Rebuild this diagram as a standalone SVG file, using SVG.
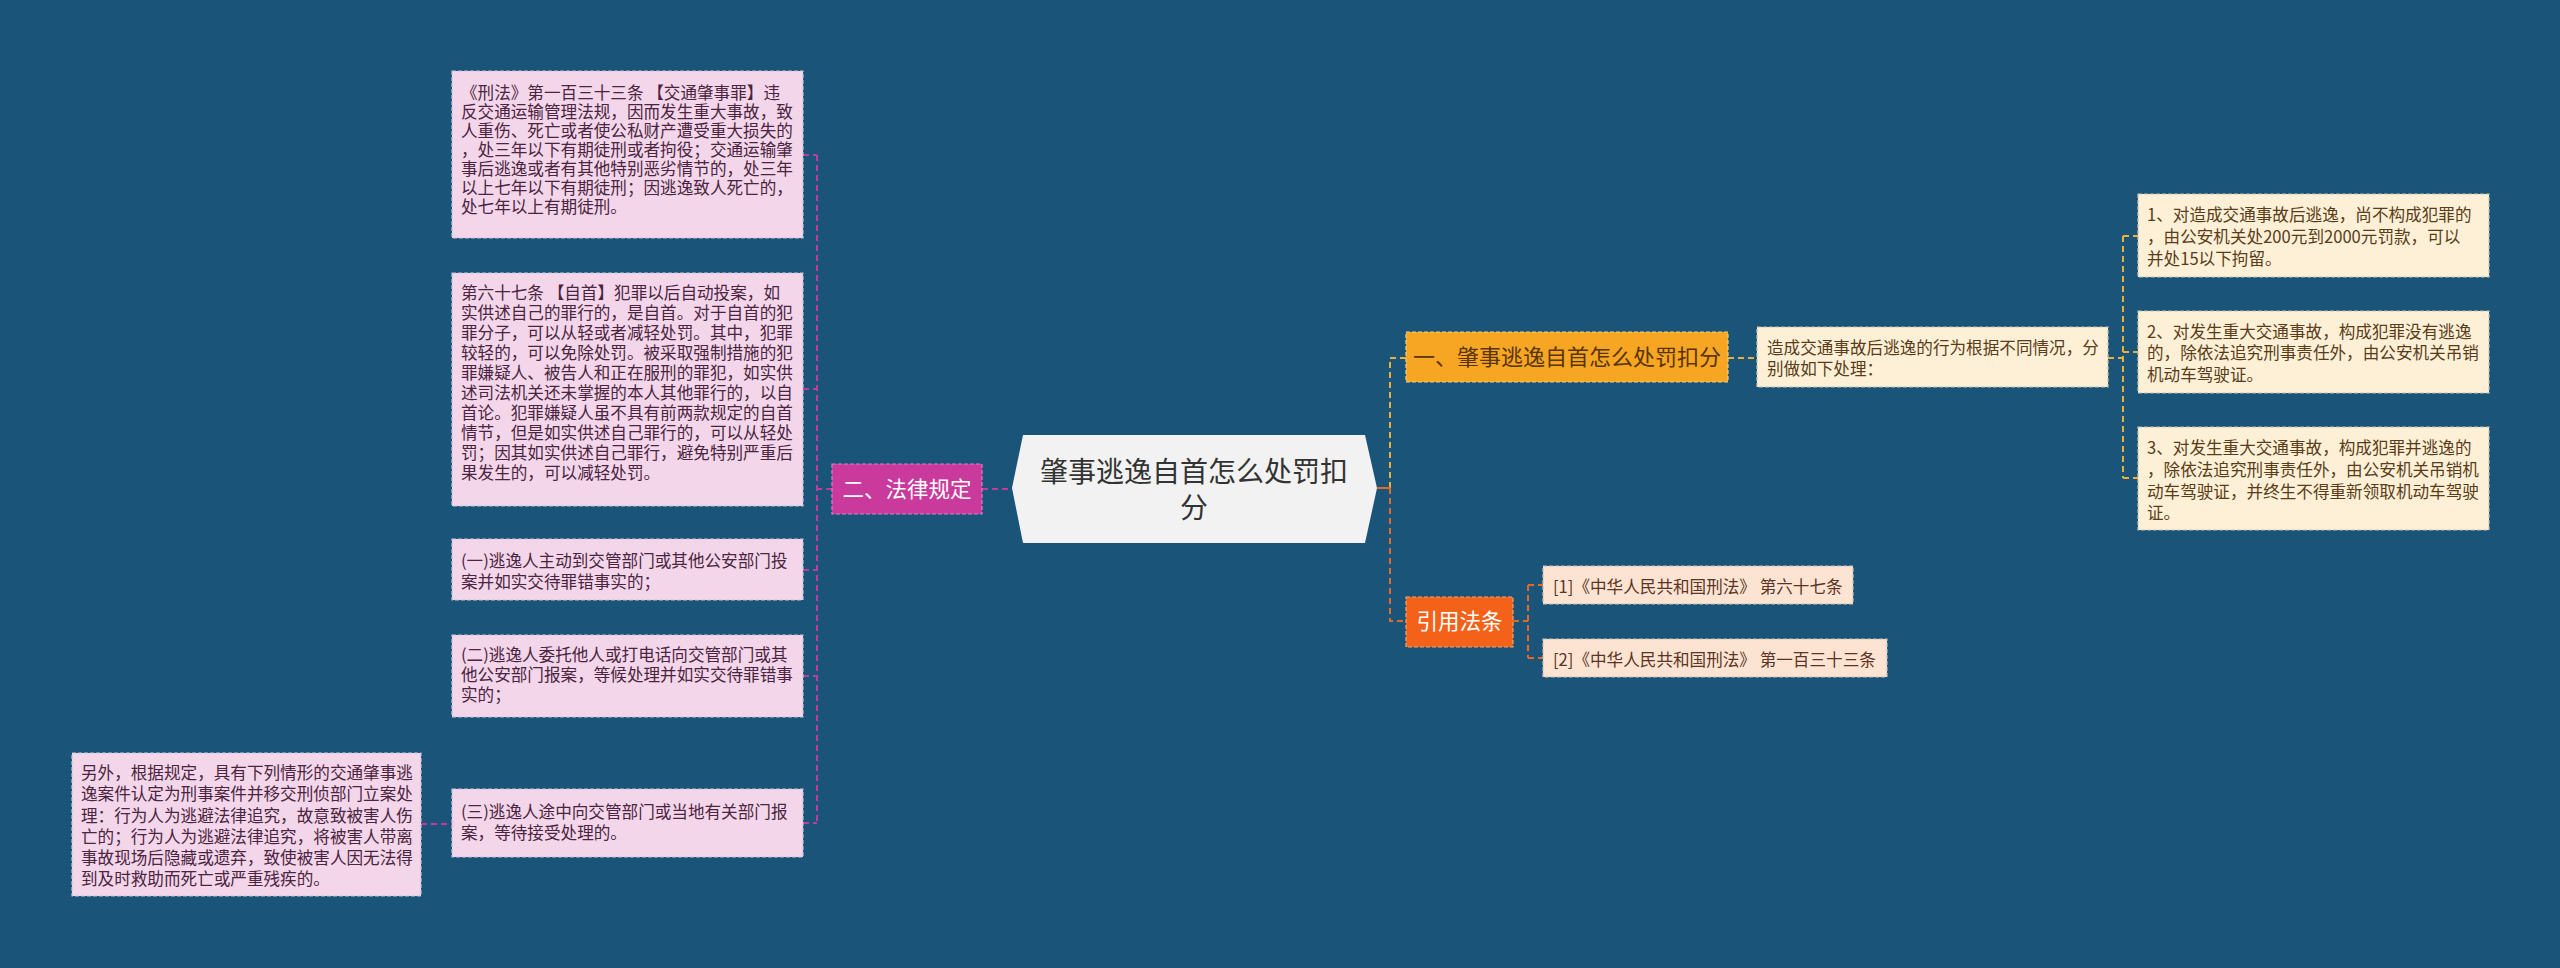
<svg xmlns="http://www.w3.org/2000/svg" width="2560" height="968" viewBox="0 0 2560 968">
<style>
text{font-family:"Noto Sans CJK SC","Noto Sans",sans-serif;}
.s{font-size:16.6px;}
.pk{fill:#f4d6ea;stroke:#c7c3d6;stroke-width:1.2;stroke-dasharray:4 2;}
.pkt{fill:#4a2440;}
.cr{fill:#fdf0d6;stroke:#c9c2b0;stroke-width:1.2;stroke-dasharray:4 2;}
.crt{fill:#5a3c18;}
.pc{fill:#fde3d2;stroke:#c9bdb5;stroke-width:1.2;stroke-dasharray:4 2;}
.pct{fill:#5a3424;}
.cm{fill:none;stroke:#c23a9a;stroke-width:2;stroke-dasharray:6 4;}
.cy{fill:none;stroke:#e9b03c;stroke-width:2;stroke-dasharray:6 4;}
.co{fill:none;stroke:#e2692a;stroke-width:2;stroke-dasharray:6 4;}
</style>
<rect x="0" y="0" width="2560" height="968" fill="#1a5478"/>
<g id="connectors">
<path class="cm" d="M982 489 H1012"/>
<path class="cm" d="M832 489 H817"/>
<path class="cm" d="M817 155 V823"/>
<path class="cm" d="M803 155 H817 M803 389 H817 M803 570 H817 M803 676 H817 M803 823 H817"/>
<path class="cm" d="M421 824 H452"/>
<path class="cy" d="M1390 488 V358 H1406"/>
<path class="cy" d="M1728 358 H1757"/>
<path class="cy" d="M2108 358 H2123"/>
<path class="cy" d="M2123 236 V478"/>
<path class="cy" d="M2123 236 H2138 M2123 352 H2138 M2123 478 H2138"/>
<path fill="none" stroke="#e2692a" stroke-width="2" d="M1377 488 H1390"/>
<path class="co" d="M1390 488 V621 H1406"/>
<path class="co" d="M1513 621 H1528"/>
<path class="co" d="M1528 585 V658"/>
<path class="co" d="M1528 585 H1543 M1528 658 H1543"/>
</g>
<g id="center">
<polygon points="1012,488 1023,435 1365,435 1377,488 1365,543 1023,543" fill="#f2f2f2"/>
<text x="1194" y="482" font-size="28" fill="#333333" text-anchor="middle">肇事逃逸自首怎么处罚扣</text>
<text x="1194" y="518" font-size="28" fill="#333333" text-anchor="middle">分</text>
</g>
<g id="n-falv">
<rect x="832" y="464" width="150" height="50" fill="#c93a9c" stroke="#e07cc4" stroke-width="1.2" stroke-dasharray="4 2"/>
<text x="907" y="497" font-size="21.5" fill="#ffffff" text-anchor="middle">二、法律规定</text>
</g>
<g id="n-xingfa133">
<rect class="pk" x="452" y="71" width="351" height="167"/>
<text class="s pkt"><tspan x="461" y="99">《刑法》第一百三十三条 【交通肇事罪】违</tspan><tspan x="461" y="118">反交通运输管理法规，因而发生重大事故，致</tspan><tspan x="461" y="137">人重伤、死亡或者使公私财产遭受重大损失的</tspan><tspan x="461" y="156">，处三年以下有期徒刑或者拘役；交通运输肇</tspan><tspan x="461" y="175">事后逃逸或者有其他特别恶劣情节的，处三年</tspan><tspan x="461" y="194">以上七年以下有期徒刑；因逃逸致人死亡的，</tspan><tspan x="461" y="213">处七年以上有期徒刑。</tspan></text>
</g>
<g id="n-67">
<rect class="pk" x="452" y="273" width="351" height="233"/>
<text class="s pkt"><tspan x="461" y="299">第六十七条 【自首】犯罪以后自动投案，如</tspan><tspan x="461" y="319">实供述自己的罪行的，是自首。对于自首的犯</tspan><tspan x="461" y="339">罪分子，可以从轻或者减轻处罚。其中，犯罪</tspan><tspan x="461" y="359">较轻的，可以免除处罚。被采取强制措施的犯</tspan><tspan x="461" y="379">罪嫌疑人、被告人和正在服刑的罪犯，如实供</tspan><tspan x="461" y="399">述司法机关还未掌握的本人其他罪行的，以自</tspan><tspan x="461" y="419">首论。犯罪嫌疑人虽不具有前两款规定的自首</tspan><tspan x="461" y="439">情节，但是如实供述自己罪行的，可以从轻处</tspan><tspan x="461" y="459">罚；因其如实供述自己罪行，避免特别严重后</tspan><tspan x="461" y="479">果发生的，可以减轻处罚。</tspan></text>
</g>
<g id="n-1">
<rect class="pk" x="452" y="539" width="351" height="61"/>
<text class="s pkt"><tspan x="461" y="567">(一)逃逸人主动到交管部门或其他公安部门投</tspan><tspan x="461" y="588">案并如实交待罪错事实的；</tspan></text>
</g>
<g id="n-2">
<rect class="pk" x="452" y="635" width="351" height="82"/>
<text class="s pkt"><tspan x="461" y="661">(二)逃逸人委托他人或打电话向交管部门或其</tspan><tspan x="461" y="681">他公安部门报案，等候处理并如实交待罪错事</tspan><tspan x="461" y="701">实的；</tspan></text>
</g>
<g id="n-3">
<rect class="pk" x="452" y="789" width="351" height="68"/>
<text class="s pkt"><tspan x="461" y="818">(三)逃逸人途中向交管部门或当地有关部门报</tspan><tspan x="461" y="839">案，等待接受处理的。</tspan></text>
</g>
<g id="n-lingwai">
<rect class="pk" x="72" y="753" width="349" height="143"/>
<text class="s pkt"><tspan x="81" y="779">另外，根据规定，具有下列情形的交通肇事逃</tspan><tspan x="81" y="800">逸案件认定为刑事案件并移交刑侦部门立案处</tspan><tspan x="81" y="822">理：行为人为逃避法律追究，故意致被害人伤</tspan><tspan x="81" y="843">亡的；行为人为逃避法律追究，将被害人带离</tspan><tspan x="81" y="864">事故现场后隐藏或遗弃，致使被害人因无法得</tspan><tspan x="81" y="885">到及时救助而死亡或严重残疾的。</tspan></text>
</g>
<g id="n-chufa">
<rect x="1406" y="332" width="322" height="50" fill="#f6a623" stroke="#f8cf7a" stroke-width="1.2" stroke-dasharray="4 2"/>
<text x="1567" y="365" font-size="22" fill="#5a3508" text-anchor="middle">一、肇事逃逸自首怎么处罚扣分</text>
</g>
<g id="n-zaocheng">
<rect class="cr" x="1757" y="327" width="351" height="60"/>
<text class="s crt"><tspan x="1767" y="354">造成交通事故后逃逸的行为根据不同情况，分</tspan><tspan x="1767" y="375">别做如下处理：</tspan></text>
</g>
<g id="n-r1">
<rect class="cr" x="2138" y="194" width="351" height="83"/>
<text class="s crt"><tspan x="2147" y="221">1、对造成交通事故后逃逸，尚不构成犯罪的</tspan><tspan x="2147" y="243">，由公安机关处200元到2000元罚款，可以</tspan><tspan x="2147" y="265">并处15以下拘留。</tspan></text>
</g>
<g id="n-r2">
<rect class="cr" x="2138" y="311" width="351" height="82"/>
<text class="s crt"><tspan x="2147" y="338">2、对发生重大交通事故，构成犯罪没有逃逸</tspan><tspan x="2147" y="359">的，除依法追究刑事责任外，由公安机关吊销</tspan><tspan x="2147" y="381">机动车驾驶证。</tspan></text>
</g>
<g id="n-r3">
<rect class="cr" x="2138" y="427" width="351" height="103"/>
<text class="s crt"><tspan x="2147" y="454">3、对发生重大交通事故，构成犯罪并逃逸的</tspan><tspan x="2147" y="476">，除依法追究刑事责任外，由公安机关吊销机</tspan><tspan x="2147" y="498">动车驾驶证，并终生不得重新领取机动车驾驶</tspan><tspan x="2147" y="519">证。</tspan></text>
</g>
<g id="n-yinyong">
<rect x="1406" y="597" width="107" height="50" fill="#f4621a" stroke="#f8a070" stroke-width="1.2" stroke-dasharray="4 2"/>
<text x="1459.5" y="629" font-size="21.5" fill="#ffffff" text-anchor="middle">引用法条</text>
</g>
<g id="n-ref1">
<rect class="pc" x="1543" y="566" width="310" height="38"/>
<text class="s pct" x="1553" y="593">[1]《中华人民共和国刑法》 第六十七条</text>
</g>
<g id="n-ref2">
<rect class="pc" x="1543" y="639" width="344" height="38"/>
<text class="s pct" x="1553" y="666">[2]《中华人民共和国刑法》 第一百三十三条</text>
</g>
</svg>
